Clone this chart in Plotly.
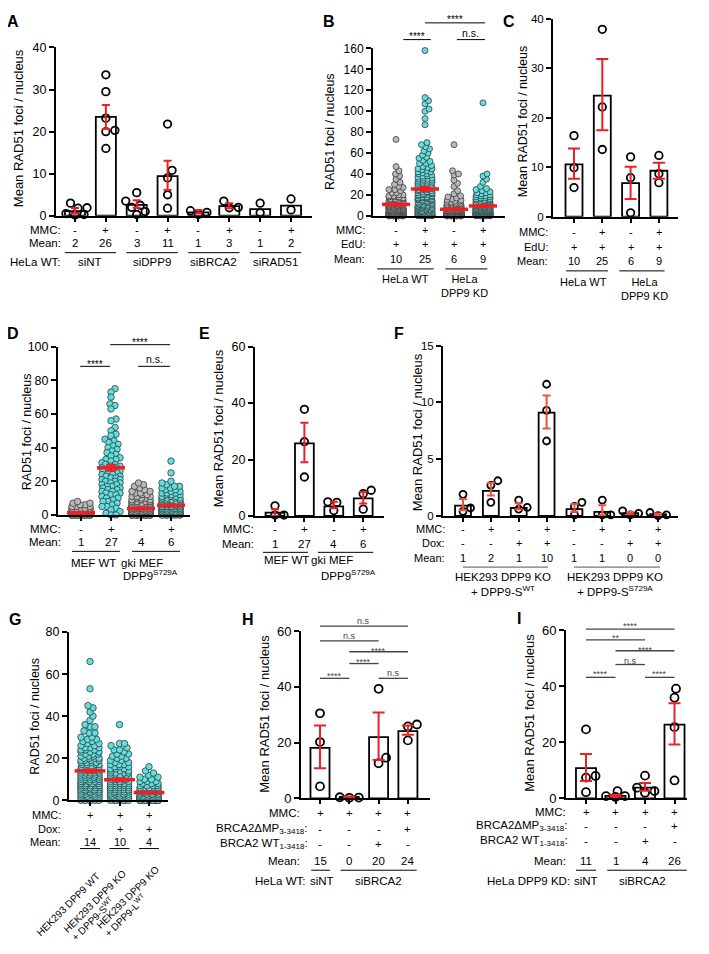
import plotly.graph_objects as go

# the page adds an 8 px body margin, so the figure is drawn 8 px smaller and
# every pixel position below (measured on the reference) is shifted by OFF
OFF = 8
W, H = 709 - OFF, 954 - OFF
FONT = "Liberation Sans, Arial, Helvetica, sans-serif"
RED = "#ee2024"
RED_F = "#f0503a"
CYAN = "#5fdfe0"
GREY = "#b9b9b9"

# ---------------- values ----------------
# A: HeLa WT, mean RAD51 foci per nucleus
A_MMC = ["-", "+", "-", "+", "-", "+", "-", "+"]
A_MEAN_LABELS = ["2", "26", "3", "11", "1", "3", "1", "2"]
A_GROUPS = ["siNT", "siDPP9", "siBRCA2", "siRAD51"]
A_BARS = [1.1, 23.5, 2.6, 9.4, 0.8, 2.3, 1.6, 2.4]
A_ERR_MEAN = [1.2, 23.5, 2.8, 9.6, 1.0, 2.4, None, None]
A_SEM = [0.65, 2.85, 0.9, 3.45, 0.4, 0.6, None, None]
A_POINTS = [
    [3.0, 1.9, 1.8, 0.5, 0.3, 0.2],
    [33.5, 29.5, 23.2, 20.3, 20.0, 16.0],
    [5.5, 3.5, 2.5, 2.0, 1.0, 0.3],
    [21.8, 10.8, 9.0, 5.0, 1.8],
    [1.2, 0.8, 0.3],
    [3.5, 2.0, 1.9],
    [3.0, 0.7],
    [4.0, 1.4],
]

# B: single nuclei, (foci count, number of nuclei)
B_MMC = ["-", "+", "-", "+"]
B_EDU = ["+", "+", "+", "+"]
B_MEAN_LABELS = ["10", "25", "6", "9"]
B_WT_NEG = [(0, 22), (1, 12), (2, 10), (3, 9), (4, 8), (5, 8), (6, 7), (7, 7), (8, 6), (9, 6),
            (10, 5), (11, 5), (12, 4), (13, 4), (14, 4), (15, 3), (16, 3), (17, 2), (18, 3),
            (19, 2), (20, 2), (22, 2), (24, 1), (25, 2), (27, 1), (28, 1), (30, 1), (32, 1),
            (35, 1), (38, 1), (40, 1), (43, 1), (47, 1), (73, 1)]
B_WT_POS = [(0, 9), (1, 6), (2, 5), (3, 5), (4, 4), (5, 4), (6, 4), (7, 4), (8, 4), (9, 3),
            (10, 4), (11, 3), (12, 3), (13, 3), (14, 3), (15, 3), (16, 3), (17, 3), (18, 3),
            (19, 2), (20, 3), (21, 2), (22, 3), (23, 2), (24, 2), (25, 3), (26, 2), (27, 2),
            (28, 2), (29, 2), (30, 2), (31, 2), (32, 2), (33, 2), (34, 2), (35, 2), (36, 2),
            (37, 1), (38, 2), (39, 1), (40, 2), (41, 1), (42, 2), (43, 1), (44, 1), (45, 2),
            (46, 1), (47, 1), (48, 1), (50, 2), (52, 1), (53, 1), (55, 1), (56, 1), (58, 1),
            (60, 1), (62, 1), (64, 1), (66, 1), (68, 1), (70, 1), (87, 1), (93, 1), (100, 1),
            (102, 1), (107, 1), (110, 1), (113, 1), (158, 1)]
B_KD_NEG = [(0, 26), (1, 16), (2, 13), (3, 11), (4, 10), (5, 8), (6, 7), (7, 6), (8, 5), (9, 4),
            (10, 4), (11, 3), (12, 3), (13, 2), (14, 2), (15, 2), (16, 1), (17, 1), (18, 1),
            (19, 1), (21, 1), (24, 1), (28, 1), (31, 1), (34, 1), (39, 1), (40, 1), (43, 1), (68, 1)]
B_KD_POS = [(0, 12), (1, 9), (2, 9), (3, 8), (4, 8), (5, 7), (6, 7), (7, 6), (8, 6), (9, 5),
            (10, 5), (11, 4), (12, 4), (13, 4), (14, 3), (15, 3), (16, 3), (17, 2), (18, 2),
            (19, 2), (20, 2), (21, 1), (22, 2), (23, 1), (24, 1), (25, 1), (26, 1), (28, 1),
            (32, 1), (35, 1), (38, 1), (40, 1), (108, 1)]
B_MEANS = [10.9, 25.6, 6.2, 9.4]
B_SEM = [1.0, 2.0, 0.9, 1.1]

# C
C_MMC = ["-", "+", "-", "+"]
C_EDU = ["+", "+", "+", "+"]
C_MEAN_LABELS = ["10", "25", "6", "9"]
C_BARS = [10.6, 24.5, 6.8, 9.3]
C_ERR_MEAN = [10.75, 24.7, 6.85, 9.3]
C_SEM = [3.05, 7.2, 3.25, 1.6]
C_POINTS = [[16.4, 9.9, 5.9], [37.9, 22.2, 13.6], [12.1, 7.9, 0.8], [12.4, 8.7, 6.9]]

# D
D_MMC = ["-", "+", "-", "+"]
D_MEAN_LABELS = ["1", "27", "4", "6"]
D_WT_NEG = [(0, 30), (1, 12), (2, 8), (3, 5), (4, 4), (5, 3), (6, 2), (7, 2), (8, 1)]
D_WT_POS = [(75, 1), (73, 1), (70, 1), (66, 1), (65, 1), (63, 1), (57, 1), (56, 1), (52, 1),
            (50, 1), (48, 1), (47, 1), (45, 1), (44, 1), (43, 1), (42, 1), (41, 1), (40, 1),
            (39, 1), (38, 1), (37, 1), (36, 1), (35, 1), (34, 1), (33, 2), (32, 1), (31, 1),
            (30, 2), (29, 2), (28, 2), (27, 2), (26, 2), (25, 2), (24, 2), (23, 2), (22, 2),
            (21, 2), (20, 2), (19, 2), (18, 2), (17, 2), (16, 2), (15, 2), (14, 2), (13, 2),
            (12, 2), (11, 1), (10, 2), (9, 1), (8, 2), (7, 1), (6, 1), (5, 2), (4, 1), (3, 1),
            (2, 1), (1, 1), (0, 2)]
D_GKI_NEG = [(0, 25), (1, 12), (2, 11), (3, 10), (4, 9), (5, 8), (6, 7), (7, 5), (8, 4), (9, 3),
             (10, 3), (11, 3), (12, 2), (13, 2), (14, 2), (15, 1), (16, 1), (17, 1), (18, 1), (19, 1)]
D_GKI_POS = [(0, 12), (1, 10), (2, 9), (3, 9), (4, 8), (5, 8), (6, 7), (7, 6), (8, 5), (9, 4),
             (10, 4), (11, 3), (12, 3), (13, 3), (14, 2), (15, 2), (16, 2), (17, 2), (18, 1),
             (19, 1), (20, 1), (25, 1), (32, 1)]
D_MEANS = [1.3, 28.0, 3.8, 5.8]
D_SEM = [0.3, 1.8, 0.5, 0.6]

# E
E_MMC = ["-", "+", "-", "+"]
E_MEAN_LABELS = ["1", "27", "4", "6"]
E_BARS = [1.2, 25.7, 3.4, 6.2]
E_ERR_MEAN = [1.2, 26.0, 3.85, 6.45]
E_SEM = [1.2, 7.0, 1.15, 2.05]
E_POINTS = [[3.6, 0.3, 0.3], [37.8, 26.3, 13.8], [5.0, 4.8, 1.9], [9.1, 7.9, 2.4]]

# F
F_MMC = ["-", "+", "-", "+", "-", "+", "-", "+"]
F_DOX = ["-", "-", "+", "+", "-", "-", "+", "+"]
F_MEAN_LABELS = ["1", "2", "1", "10", "1", "1", "0", "0"]
F_BARS = [0.9, 2.2, 0.7, 9.1, 0.6, 0.35, 0.25, 0.15]
F_ERR_MEAN = [1.0, 2.35, 0.85, 9.15, 0.7, 0.5, 0.25, 0.15]
F_SEM = [0.5, 0.55, 0.27, 1.45, 0.34, 0.45, 0.1, 0.07]
F_POINTS = [[1.9, 0.7, 0.4], [3.1, 2.7, 1.2], [1.4, 0.75, 0.6], [11.6, 9.3, 6.6],
            [1.2, 0.84, 0.1], [1.4, 0.1, 0.1], [0.45, 0.23, 0.1], [0.3, 0.1, 0.03]]

# G
G_MMC = ["+", "+", "+"]
G_DOX = ["-", "+", "+"]
G_MEAN_LABELS = ["14", "10", "4"]
G_WT = [(0, 6), (1, 5), (2, 6), (3, 6), (4, 7), (5, 7), (6, 7), (7, 7), (8, 7), (9, 6), (10, 6),
        (11, 6), (12, 6), (13, 5), (14, 5), (15, 5), (16, 5), (17, 4), (18, 4), (19, 4), (20, 4),
        (21, 3), (22, 3), (23, 3), (24, 3), (25, 3), (26, 2), (27, 2), (28, 2), (29, 2), (30, 2),
        (32, 2), (33, 1), (35, 2), (36, 1), (38, 1), (40, 1), (42, 1), (44, 1), (45, 1), (53, 1), (66, 1)]
G_KO_S = [(0, 8), (1, 6), (2, 6), (3, 6), (4, 6), (5, 6), (6, 6), (7, 5), (8, 5), (9, 5), (10, 5),
          (11, 4), (12, 4), (13, 4), (14, 3), (15, 3), (16, 3), (17, 3), (18, 2), (19, 2), (20, 2),
          (21, 2), (22, 2), (23, 1), (24, 2), (25, 1), (26, 1), (27, 2), (36, 1)]
G_KO_L = [(0, 20), (1, 12), (2, 10), (3, 9), (4, 8), (5, 6), (6, 5), (7, 4), (8, 3), (9, 3),
          (10, 2), (11, 2), (12, 1), (13, 1), (14, 1), (16, 1)]
G_MEANS = [14.0, 9.8, 3.7]
G_SEM = [0.8, 0.7, 0.4]
G_LABELS = [["HEK293 DPP9 WT"],
            ["HEK293 DPP9 KO", "+ DPP9-S<sup>WT</sup>"],
            ["HEK293 DPP9 KO", "+ DPP9-L<sup>WT</sup>"]]

# H
H_MMC = ["+", "+", "+", "+"]
H_DMP = ["-", "-", "-", "+"]
H_WT = ["-", "-", "+", "-"]
H_MEAN_LABELS = ["15", "0", "20", "24"]
H_BARS = [18.1, 0.5, 22.0, 24.1]
H_ERR_MEAN = [18.45, 0.5, 22.3, 24.45]
H_SEM = [7.65, 0.2, 8.5, 1.65]
H_POINTS = [[30.5, 20.2, 4.3], [0.4, 0.3, 0.2], [39.3, 14.6, 12.6], [26.5, 25.8, 20.8]]

# I
I_MMC = ["+", "+", "+", "+"]
I_DMP = ["-", "-", "-", "+"]
I_WT = ["-", "-", "+", "-"]
I_MEAN_LABELS = ["11", "1", "4", "26"]
I_BARS = [10.8, 0.9, 3.8, 26.3]
I_ERR_MEAN = [11.0, 0.95, 4.1, 26.55]
I_SEM = [4.8, 0.35, 1.35, 7.35]
I_POINTS = [[24.6, 8.0, 7.4, 2.2], [2.6, 0.8, 0.8, 0.5], [8.1, 3.8, 2.6, 2.0], [39.1, 35.9, 25.4, 6.4]]

# ---------------- panel geometry (reference pixels) ----------------
GEOM = {
    1: dict(x0=56, x1=312, ytop=41, ybot=212, c0=75, dc=30.86, ymax=40),
    2: dict(x0=373, x1=505, ytop=42, ybot=212, c0=396, dc=29.0, ymax=160),
    3: dict(x0=553, x1=678, ytop=12, ybot=213, c0=574, dc=28.3, ymax=40),
    4: dict(x0=58, x1=190, ytop=345, ybot=516, c0=81, dc=30.0, ymax=100),
    5: dict(x0=255, x1=384, ytop=345, ybot=517, c0=275, dc=29.4, ymax=60),
    6: dict(x0=443, x1=678, ytop=344, ybot=517, c0=463, dc=27.86, ymax=15),
    7: dict(x0=69, x1=168, ytop=635, ybot=806, c0=90, dc=29.5, ymax=80),
    8: dict(x0=301, x1=430, ytop=634, ybot=804, c0=320, dc=29.3, ymax=60),
    9: dict(x0=566, x1=687, ytop=633, ybot=804, c0=586, dc=29.5, ymax=60),
}

fig = go.Figure()
axes = {}
anns = []
shapes = []


def fx(x):
    return (x - OFF) / W


def fy(y):
    return 1 - (y - OFF) / H


def ids(n):
    return ("x", "y") if n == 1 else (f"x{n}", f"y{n}")


def hist(pairs):
    vals = []
    for v, c in pairs:
        vals += [v] * c
    return vals


def swarm(values, ppu, diam, max_half, step=0.5):
    """pixel x-offsets of a simple beeswarm, order of values kept"""
    cands = [0.0]
    k = 1
    while k * step <= max_half:
        cands += [k * step, -k * step]
        k += 1
    order = sorted(range(len(values)), key=lambda i: values[i])
    placed = []
    out = [0.0] * len(values)
    for i in order:
        y = values[i] * ppu
        near = [(qx, qy) for qx, qy in placed if abs(qy - y) < diam]
        best, best_cost = 0.0, None
        for c in cands:
            cost = 0.0
            for qx, qy in near:
                d = ((qx - c) ** 2 + (qy - y) ** 2) ** 0.5
                if d < diam:
                    cost += diam - d
            if cost == 0:
                best = c
                break
            if best_cost is None or cost < best_cost - 1e-9:
                best, best_cost = c, cost
        out[i] = best
        placed.append((best, y))
    return out


def make_axes(n, ncat, yticks, tsize):
    g = GEOM[n]
    xid, yid = ids(n)
    xk = "xaxis" if n == 1 else f"xaxis{n}"
    yk = "yaxis" if n == 1 else f"yaxis{n}"
    axes[xk] = dict(domain=[fx(g["x0"]), fx(g["x1"])],
                    range=[(g["x0"] - g["c0"]) / g["dc"], (g["x1"] - g["c0"]) / g["dc"]],
                    anchor=yid, showline=True, linecolor="black", linewidth=2,
                    ticks="outside", ticklen=4, tickwidth=1.5, tickcolor="black",
                    tickvals=list(range(ncat)), showticklabels=False,
                    showgrid=False, zeroline=False)
    axes[yk] = dict(domain=[fy(g["ybot"]), fy(g["ytop"])], range=[0, g["ymax"]],
                    anchor=xid, showline=True, linecolor="black", linewidth=2,
                    ticks="outside", ticklen=5, tickwidth=1.5, tickcolor="black",
                    tickvals=yticks, tickfont=dict(family=FONT, size=tsize, color="black"),
                    showgrid=False, zeroline=False)


def txt(text, x, y, xref="paper", size=11, anchor="center", color="black", **kw):
    anns.append(dict(text=text, x=fx(x) if xref == "paper" else x, y=fy(y),
                     xref=xref, yref="paper", showarrow=False, xanchor=anchor,
                     yanchor="middle", font=dict(family=FONT, size=size, color=color), **kw))


def row(n, y, label, right, items, size):
    txt(label, right, y, size=size, anchor="right")
    for i, s in enumerate(items):
        txt(s, i, y, xref=ids(n)[0], size=size)


def hline(n, a, b, y, color="black", width=1):
    shapes.append(dict(type="line", xref=ids(n)[0], yref="paper", x0=a, x1=b,
                       y0=fy(y), y1=fy(y), line=dict(color=color, width=width)))


def sig(n, a, b, ly, text, ty, size, color="black", width=1):
    hline(n, a, b, ly, color, width)
    txt(text, (a + b) / 2, ty, xref=ids(n)[0], size=size, color=color)


def bars(n, heights, width):
    xid, yid = ids(n)
    fig.add_trace(go.Bar(x=list(range(len(heights))), y=heights, width=width,
                         marker=dict(color="white", line=dict(color="black", width=1.8)),
                         xaxis=xid, yaxis=yid, showlegend=False, hoverinfo="skip"))


def dots(n, cat, vals, size, fill, lcol, lw, diam, max_half):
    g = GEOM[n]
    xid, yid = ids(n)
    ppu = (g["ybot"] - g["ytop"]) / g["ymax"]
    offs = swarm(vals, ppu, diam, max_half)
    fig.add_trace(go.Scatter(x=[cat + o / g["dc"] for o in offs], y=vals, mode="markers",
                             marker=dict(size=size, color=fill, line=dict(color=lcol, width=lw)),
                             cliponaxis=False, xaxis=xid, yaxis=yid, showlegend=False,
                             hoverinfo="skip"))


def open_dots(n, groups, size=7.5, max_half=12):
    for i, vals in enumerate(groups):
        dots(n, i, vals, size, "rgba(0,0,0,0)", "black", 1.8, size + 1.2, max_half)


def errs(n, means, sems, color=RED, cap=4, thick=2, mean_len=None):
    xid, yid = ids(n)
    keep = [i for i, m in enumerate(means) if m is not None]
    if mean_len:
        fig.add_trace(go.Scatter(x=keep, y=[means[i] for i in keep], mode="markers",
                                 marker=dict(symbol="line-ew", size=mean_len,
                                             line=dict(color=color, width=3.5)),
                                 cliponaxis=False, xaxis=xid, yaxis=yid, showlegend=False,
                                 hoverinfo="skip"))
    fig.add_trace(go.Scatter(x=keep, y=[means[i] for i in keep], mode="markers",
                             marker=dict(size=1, color="rgba(0,0,0,0)"),
                             error_y=dict(type="data", array=[sems[i] for i in keep],
                                          color=color, thickness=thick, width=cap),
                             cliponaxis=False, xaxis=xid, yaxis=yid, showlegend=False,
                             hoverinfo="skip"))


def ytitle(text, x, y, size=13):
    txt(text, x, y, size=size, textangle=-90)


def letter(s, x, y):
    txt("<b>" + s + "</b>", x, y, size=16)


MEAN_TITLE = "Mean RAD51 foci / nucleus"
SC_TITLE = "RAD51 foci / nucleus"

# ---------------- A ----------------
make_axes(1, 8, [0, 10, 20, 30, 40], 12.5)
bars(1, A_BARS, 0.65)
open_dots(1, A_POINTS)
errs(1, A_ERR_MEAN, A_SEM, cap=4)
row(1, 226, "MMC:", 63, A_MMC, 11.5)
row(1, 239.5, "Mean:", 63, A_MEAN_LABELS, 11.5)
txt("HeLa WT:", 63, 258.5, size=11.5, anchor="right")
for k, name in enumerate(A_GROUPS):
    hline(1, 2 * k - 0.33, 2 * k + 1.33, 249.5)
    txt(name, 2 * k + 0.5, 258.5, xref="x", size=11.5)
ytitle(MEAN_TITLE, 18, 123)
letter("A", 13, 15)

# ---------------- B ----------------
make_axes(2, 4, list(range(0, 161, 20)), 12)
for i, (pairs, col) in enumerate([(B_WT_NEG, GREY), (B_WT_POS, CYAN), (B_KD_NEG, GREY), (B_KD_POS, CYAN)]):
    dots(2, i, hist(pairs), 6, col, "#3a3a3a", 0.8, 4.5, 7)
errs(2, B_MEANS, B_SEM, cap=5, mean_len=20)
row(2, 226, "MMC:", 367, B_MMC, 11)
row(2, 241, "EdU:", 367, B_EDU, 11)
row(2, 256, "Mean:", 367, B_MEAN_LABELS, 11)
hline(2, -0.65, 1.3, 266)
hline(2, 1.7, 3.15, 266)
txt("HeLa WT", 0.33, 276, xref="x2", size=11)
txt("HeLa<br>DPP9 KD", 2.35, 283, xref="x2", size=11)
sig(2, 0.25, 1.2, 33, "****", 30, 10)
sig(2, 1.0, 3.07, 16, "****", 13, 10)
sig(2, 2.1, 3.07, 33, "n.s.", 26, 10.5)
ytitle(SC_TITLE, 330, 127, 12.5)
letter("B", 329, 15)

# ---------------- C ----------------
make_axes(3, 4, [0, 10, 20, 30, 40], 11.5)
bars(3, C_BARS, 0.6)
open_dots(3, C_POINTS)
errs(3, C_ERR_MEAN, C_SEM, cap=6)
row(3, 229, "MMC:", 550, C_MMC, 11)
row(3, 244, "EdU:", 550, C_EDU, 11)
row(3, 258, "Mean:", 550, C_MEAN_LABELS, 11)
hline(3, -0.28, 1.2, 268)
hline(3, 1.6, 3.2, 268)
txt("HeLa WT", 0.35, 279, xref="x3", size=11)
txt("HeLa<br>DPP9 KD", 2.5, 286, xref="x3", size=11)
ytitle(MEAN_TITLE, 523, 117, 12.5)
letter("C", 509, 15)

# ---------------- D ----------------
make_axes(4, 4, [0, 20, 40, 60, 80, 100], 12.5)
for i, (pairs, col) in enumerate([(D_WT_NEG, GREY), (D_WT_POS, CYAN), (D_GKI_NEG, GREY), (D_GKI_POS, CYAN)]):
    dots(4, i, hist(pairs), 6.5, col, "#3a3a3a", 0.8, 5.0, 9)
errs(4, D_MEANS, D_SEM, cap=5, mean_len=20)
row(4, 530, "MMC:", 63, D_MMC, 11.5)
row(4, 543, "Mean:", 63, D_MEAN_LABELS, 11.5)
hline(4, -0.3, 1.3, 553)
hline(4, 1.7, 3.3, 553)
txt("MEF WT", 0.4, 565, xref="x4", size=11.5)
txt("gki MEF", 2.03, 565, xref="x4", size=11.5)
txt("DPP9<sup>S729A</sup>", 2.33, 577, xref="x4", size=11.5)
sig(4, -0.03, 0.97, 365, "****", 363, 10)
sig(4, 0.97, 2.97, 343, "****", 341, 10)
sig(4, 1.9, 2.97, 365, "n.s.", 358, 10.5)
ytitle(SC_TITLE, 27, 432, 12.5)
letter("D", 13, 332)

# ---------------- E ----------------
make_axes(5, 4, [0, 20, 40, 60], 12.5)
bars(5, E_BARS, 0.64)
open_dots(5, E_POINTS)
errs(5, E_ERR_MEAN, E_SEM, cap=4)
row(5, 530, "MMC:", 256, E_MMC, 11.5)
row(5, 546, "Mean:", 256, E_MEAN_LABELS, 11.5)
hline(5, -0.41, 1.12, 554)
hline(5, 1.46, 3.34, 554)
txt("MEF WT", 0.38, 562, xref="x5", size=11.5)
txt("gki MEF", 1.95, 562, xref="x5", size=11.5)
txt("DPP9<sup>S729A</sup>", 2.5, 577, xref="x5", size=11.5)
ytitle(MEAN_TITLE, 218, 428)
letter("E", 204, 332)

# ---------------- F ----------------
make_axes(6, 8, [0, 5, 10, 15], 11.5)
bars(6, F_BARS, 0.57)
open_dots(6, F_POINTS, size=7, max_half=10)
errs(6, F_ERR_MEAN, F_SEM, color=RED_F, cap=4)
row(6, 530, "MMC:", 447, F_MMC, 11)
row(6, 545, "Dox:", 447, F_DOX, 11)
row(6, 560, "Mean:", 447, F_MEAN_LABELS, 11)
hline(6, 0.0, 3.05, 569, color="#555")
hline(6, 3.98, 7.07, 569, color="#555")
txt("HEK293 DPP9 KO<br>+ DPP9-S<sup>WT</sup>", 1.45, 587, xref="x6", size=11.5)
txt("HEK293 DPP9 KO<br>+ DPP9-S<sup>S729A</sup>", 5.45, 587, xref="x6", size=11.5)
ytitle(MEAN_TITLE, 417, 432)
letter("F", 399, 332)

# ---------------- G ----------------
make_axes(7, 3, [0, 20, 40, 60, 80], 12.5)
for i, pairs in enumerate([G_WT, G_KO_S, G_KO_L]):
    dots(7, i, hist(pairs), 6.5, CYAN, "#3a3a3a", 0.8, 5.0, 9)
errs(7, G_MEANS, G_SEM, cap=5, mean_len=22)
row(7, 821, "MMC:", 63, G_MMC, 11)
row(7, 835, "Dox:", 63, G_DOX, 11)
row(7, 848, "Mean:", 63, G_MEAN_LABELS, 11)
for i in range(3):
    hline(7, i - 0.34, i + 0.34, 855)
# rotated labels: left aligned lines, first line ending at a point below each column
G_FS = 10
G_EM = {"HEK293 DPP9 WT": 8.45, "HEK293 DPP9 KO": 8.34}
G_ENDS = [(98, 882), (124, 879), (157, 875)]
ux, uy = 0.7071, -0.7071  # text direction (screen px, y down)
px_, py_ = 0.7071, 0.7071  # next-line direction
for (ex, ey), lines in zip(G_ENDS, G_LABELS):
    l0 = G_EM[lines[0]] * G_FS
    sx, sy = ex - ux * l0, ey - uy * l0
    for k, line in enumerate(lines):
        ln = l0 if k == 0 else 5.5 * G_FS
        cx = sx + px_ * 11.5 * k + ux * ln / 2
        cy = sy + py_ * 11.5 * k + uy * ln / 2
        txt(line, cx, cy, size=G_FS, textangle=-45)
ytitle(SC_TITLE, 35, 721, 12.5)
letter("G", 15, 622)

# ---------------- H ----------------
make_axes(8, 4, [0, 20, 40, 60], 13)
bars(8, H_BARS, 0.65)
open_dots(8, H_POINTS, size=8)
errs(8, H_ERR_MEAN, H_SEM, cap=6)
row(8, 819, "MMC:", 302, H_MMC, 11.5)
row(8, 835, "BRCA2ΔMP<sub>3-3418</sub>:", 310, H_DMP, 11.5)
row(8, 850, "BRCA2 WT<sub>1-3418</sub>:", 310, H_WT, 11.5)
row(8, 868, "Mean:", 302, H_MEAN_LABELS, 11.5)
hline(8, -0.3, 0.34, 877)
hline(8, 0.7, 3.3, 877)
txt("HeLa WT:", 308, 888, size=11.5, anchor="right")
txt("siNT", 0.07, 888, xref="x8", size=11.5)
txt("siBRCA2", 2.0, 888, xref="x8", size=11.5)
for a, b, ly, t, ty in [(0, 3, 629, "n.s", 624), (0, 2, 644, "n.s", 639), (1, 3, 655, "****", 654),
                        (1, 2, 667, "****", 665), (0, 1, 682, "****", 680), (2, 3, 682, "n.s", 677)]:
    sig(8, a, b, ly, t, ty, 9, color="#444", width=1.3)
ytitle(MEAN_TITLE, 265, 718)
letter("H", 248, 622)

# ---------------- I ----------------
make_axes(9, 4, [0, 20, 40, 60], 13)
bars(9, I_BARS, 0.68)
open_dots(9, I_POINTS, size=8)
errs(9, I_ERR_MEAN, I_SEM, cap=6)
row(9, 818, "MMC:", 568, I_MMC, 11.5)
row(9, 832, "BRCA2ΔMP<sub>3-3418</sub>:", 570, I_DMP, 11.5)
row(9, 847, "BRCA2 WT<sub>1-3418</sub>:", 570, I_WT, 11.5)
row(9, 868, "Mean:", 568, I_MEAN_LABELS, 11.5)
hline(9, -0.34, 0.34, 877)
hline(9, 0.72, 3.41, 877)
txt("HeLa DPP9 KD:", 572, 888, size=11.5, anchor="right")
txt("siNT", 0.0, 888, xref="x9", size=11.5)
txt("siBRCA2", 1.9, 888, xref="x9", size=11.5)
for a, b, ly, t, ty in [(0, 3, 632, "****", 629), (0, 2, 643, "**", 641), (1, 3, 654, "****", 653),
                        (1, 2, 668, "n.s", 664), (0, 1, 681, "****", 678), (2, 3, 681, "****", 678)]:
    sig(9, a, b, ly, t, ty, 9, color="#444", width=1.3)
ytitle(MEAN_TITLE, 530, 717)
letter("I", 519, 621)

fig.update_layout(width=W, height=H, margin=dict(l=0, r=0, t=0, b=0),
                  paper_bgcolor="white", plot_bgcolor="white", showlegend=False,
                  annotations=anns, shapes=shapes, **axes)
fig.write_html("out.html")
